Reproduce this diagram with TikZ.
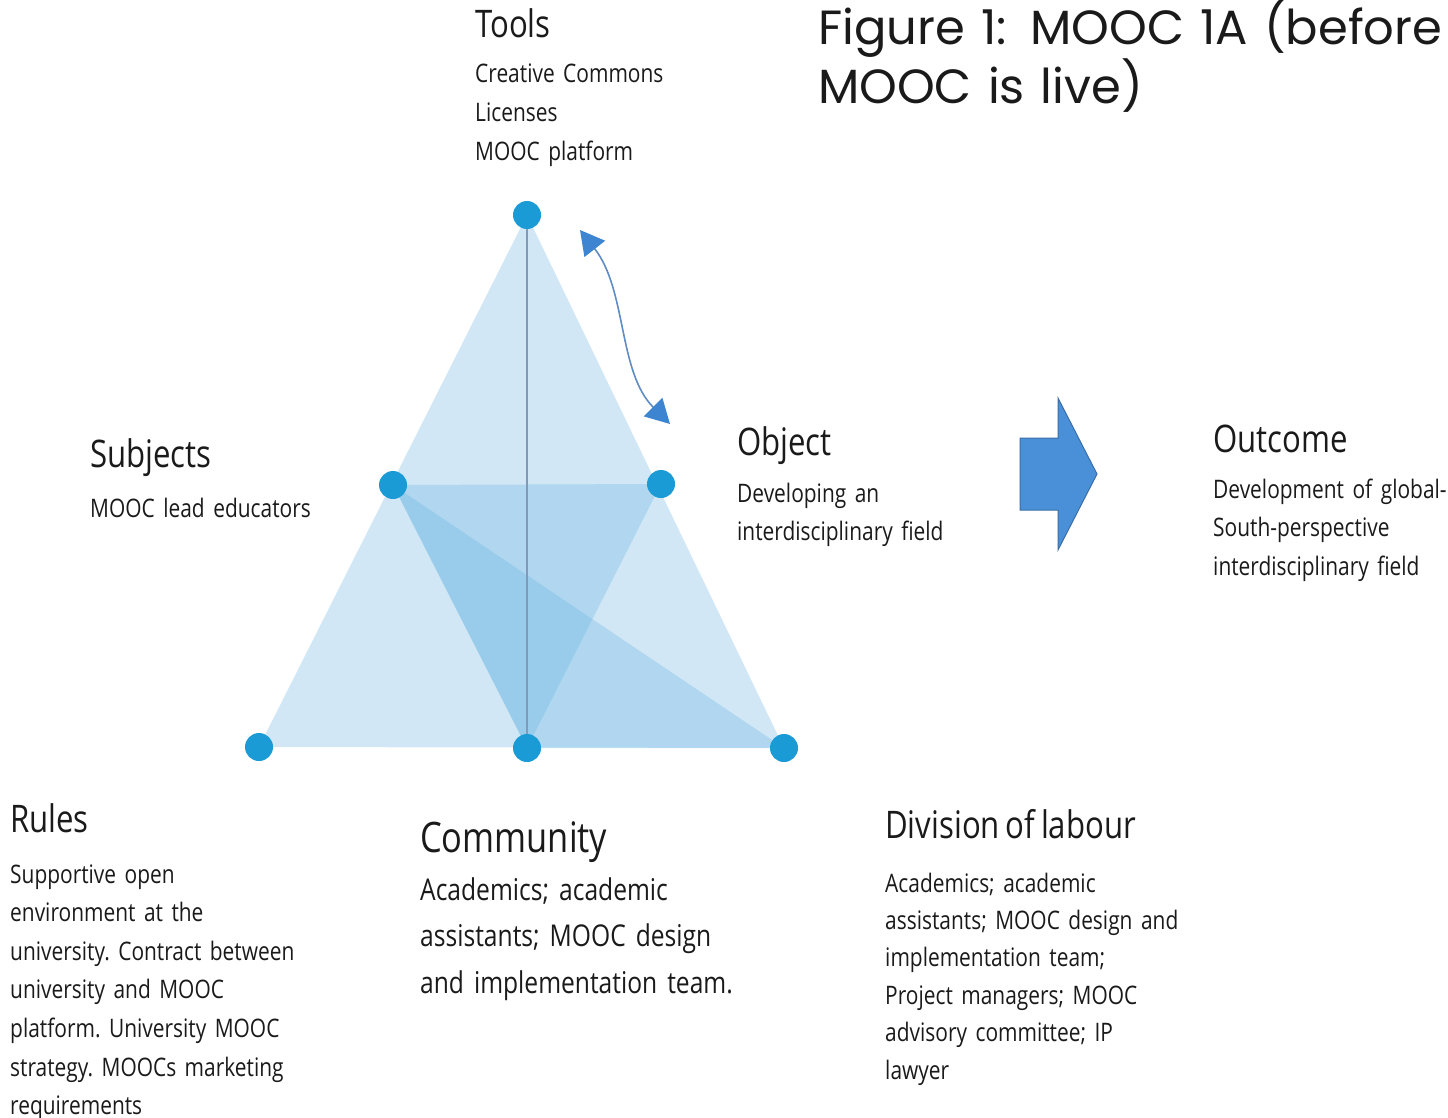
\documentclass[tikz,border=0pt]{standalone}
\usepackage{fontspec}
\setmainfont[FakeStretch=0.82,WordSpace=0.72]{Open Sans}
\newfontfamily\titlefont[WordSpace=0.8]{Poppins}
\usetikzlibrary{arrows.meta}
\definecolor{trilight}{RGB}{209,231,245}
\definecolor{trimid}{RGB}{100,180,228}
\definecolor{dotblue}{RGB}{27,155,214}
\definecolor{axisline}{RGB}{128,155,185}
\definecolor{arrowline}{RGB}{95,140,195}
\definecolor{arrowhead}{RGB}{61,133,208}
\definecolor{bigfill}{RGB}{74,144,216}
\definecolor{bigdraw}{RGB}{58,110,168}
\definecolor{txt}{RGB}{26,26,26}
\tikzset{
  vdot/.style={circle, fill=dotblue, minimum size=28pt, inner sep=0pt},
  overlay tri/.style={fill=trimid, fill opacity=0.3},
  head/.style={anchor=base west, inner sep=0pt, text=txt, font=\fontsize{38}{46}\selectfont},
  bigtitle/.style={anchor=base west, inner sep=0pt, text=txt, font=\fontsize{42}{50}\selectfont},
  body/.style={anchor=base west, inner sep=0pt, text=txt, align=left, text width=420pt,
    font=\fontsize{25.5}{38.6}\selectfont\frenchspacing},
  bodydiv/.style={body, font=\fontsize{25.5}{37.4}\selectfont\frenchspacing},
  bodycom/.style={body, font=\fontsize{30}{46.5}\selectfont\frenchspacing},
  ttl/.style={anchor=base west, inner sep=0pt, text=txt, align=left, text width=800pt,
    font=\titlefont\fontsize{48}{52}\selectfont},
}
\begin{document}
\begin{tikzpicture}[x=1pt,y=-1pt]
\useasboundingbox (0,0) rectangle (1448,1118);
% vertex positions
\coordinate (cT) at (527,215);
\coordinate (cL) at (393,485);
\coordinate (cR) at (661,484);
\coordinate (cBL) at (259,747);
\coordinate (cBM) at (527,748);
\coordinate (cBR) at (784,748);
% triangles
\fill[trilight] (cT) -- (cBL) -- (cBR) -- cycle;
\fill[overlay tri] (cL) -- (cR) -- (cBM) -- cycle;
\fill[overlay tri] (cL) -- (cBR) -- (cBM) -- cycle;
% vertex dots
\node[vdot] (T) at (cT) {};
\node[vdot] (L) at (cL) {};
\node[vdot] (R) at (cR) {};
\node[vdot] (BL) at (cBL) {};
\node[vdot] (BM) at (cBM) {};
\node[vdot] (BR) at (cBR) {};
\draw[axisline, line width=1.2pt] (T) -- (BM);
% curved double arrow
\coordinate (arrA) at (580,230);
\coordinate (arrB) at (670,424);
\draw[arrowline, line width=1.6pt,
  {Triangle[length=24pt,width=26pt,color=arrowhead]}-{Triangle[length=24pt,width=26pt,color=arrowhead]}]
  (arrA) .. controls (627,290) and (618,372) .. (arrB);
% big block arrow
\draw[fill=bigfill, draw=bigdraw, line width=1pt, line join=miter]
  (1020,438) -- (1058,438) -- (1058,398) -- (1097,474) -- (1058,550) -- (1058,510) -- (1020,510) -- cycle;
% title
\node[ttl] (title) at (818,45) {Figure 1: MOOC 1A (before\\MOOC is live)};
% labels
\node[head] (tools) at (475,38) {Tools};
\node[body] (toolsb) at (475,83) {Creative Commons\\Licenses\\MOOC platform};
\node[head] (subj) at (90,467) {Subjects};
\node[body] (subjb) at (90,517) {MOOC lead educators};
\node[head] (obj) at (737,455) {Object};
\node[body] (objb) at (737,502) {Developing an\\interdisciplinary field};
\node[head] (out) at (1213,452) {Outcome};
\node[body] (outb) at (1213,498) {Development of global-\\South-perspective\\interdisciplinary field};
\node[head] (rules) at (10,832) {Rules};
\node[body] (rulesb) at (10,883) {Supportive open\\environment at the\\university. Contract between\\university and MOOC\\platform. University MOOC\\strategy. MOOCs marketing\\requirements};
\node[bigtitle] (com) at (420,852) {Community};
\node[bodycom] (comb) at (420,900) {Academics; academic\\assistants; MOOC design\\and implementation team.};
\node[head] (div) at (885,838) {Division of labour};
\node[bodydiv] (divb) at (885,892) {Academics; academic\\assistants; MOOC design and\\implementation team;\\Project managers; MOOC\\advisory committee; IP\\lawyer};
\end{tikzpicture}
\end{document}
